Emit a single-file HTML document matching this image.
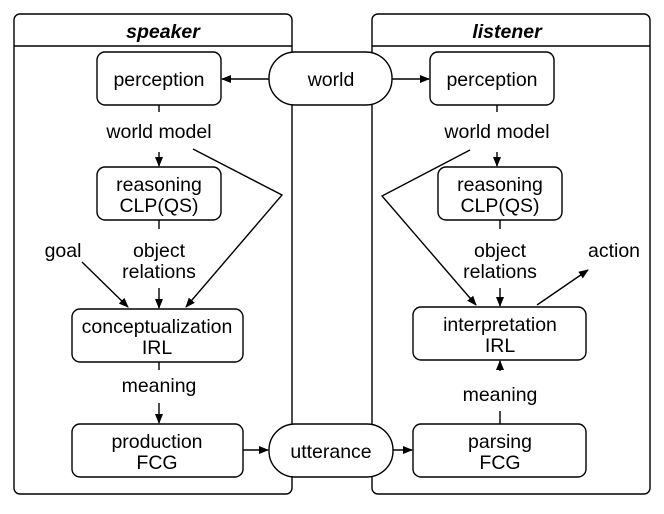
<!DOCTYPE html><html><head><style>body{margin:0;background:#fff}</style></head><body>
<svg width="664" height="509" viewBox="0 0 664 509" xmlns="http://www.w3.org/2000/svg" font-family="Liberation Sans, sans-serif" font-size="19.5" text-anchor="middle">
<defs><marker id="a" markerWidth="10" markerHeight="8" refX="9" refY="4" orient="auto" markerUnits="userSpaceOnUse"><path d="M0,0L10,4L0,8z" fill="#000"/></marker></defs>
<g fill="none" stroke="#000" stroke-width="1.4">
<rect x="14" y="14" width="278" height="480" rx="6"/><line x1="14" y1="46" x2="292" y2="46"/>
<rect x="372" y="14" width="278" height="480" rx="6"/><line x1="372" y1="46" x2="650" y2="46"/>
</g>
<g fill="#fff" stroke="#000" stroke-width="1.4">
<rect x="97" y="52" width="124" height="53" rx="8"/>
<rect x="269" y="52" width="123" height="53" rx="26"/>
<rect x="97" y="167" width="124" height="53" rx="8"/>
<rect x="72" y="309" width="171" height="53" rx="8"/>
<rect x="72" y="424" width="171" height="53" rx="8"/>
<rect x="269" y="424" width="124" height="53" rx="26"/>
<rect x="430" y="52" width="124" height="53" rx="8"/>
<rect x="438" y="167" width="124" height="53" rx="8"/>
<rect x="413" y="307" width="173" height="53" rx="8"/>
<rect x="413" y="424" width="173" height="53" rx="8"/>
</g>
<g fill="none" stroke="#000" stroke-width="1.4" marker-end="url(#a)">
<line x1="269" y1="79" x2="222" y2="79"/>
<line x1="392" y1="79" x2="429" y2="79"/>
<line x1="159" y1="152" x2="159" y2="166"/>
<line x1="159" y1="288" x2="159" y2="308"/>
<polyline points="193,149 282,195 186,307"/>
<line x1="82" y1="262" x2="128" y2="307"/>
<line x1="159" y1="403" x2="159" y2="423"/>
<line x1="243" y1="450" x2="268" y2="450"/>
<line x1="393" y1="450" x2="412" y2="450"/>
<line x1="497" y1="152" x2="497" y2="166"/>
<line x1="500" y1="288" x2="500" y2="306"/>
<polyline points="470,150 382,196 476,305"/>
<line x1="537" y1="305" x2="588" y2="270"/>
<line x1="500" y1="371" x2="500" y2="361"/>
</g>
<g stroke="#000" stroke-width="1.4">
<line x1="159" y1="105" x2="159" y2="112"/><line x1="159" y1="220" x2="159" y2="229"/><line x1="159" y1="362" x2="159" y2="370"/>
<line x1="497" y1="105" x2="497" y2="112"/><line x1="500" y1="220" x2="500" y2="229"/><line x1="500" y1="411" x2="500" y2="424"/>
</g>
<text x="163" y="38" font-weight="bold" font-style="italic">speaker</text>
<text x="507" y="38" font-weight="bold" font-style="italic">listener</text>
<text x="159" y="86">perception</text><text x="331" y="86">world</text>
<text x="159" y="138">world model</text>
<text x="159" y="191">reasoning</text><text x="159" y="212">CLP(QS)</text>
<text x="159" y="257">object</text><text x="159" y="278">relations</text>
<text x="63" y="257">goal</text>
<text x="157" y="333">conceptualization</text><text x="157" y="354">IRL</text>
<text x="159" y="392">meaning</text>
<text x="157" y="448">production</text><text x="157" y="469">FCG</text>
<text x="331" y="458">utterance</text>
<text x="492" y="86">perception</text>
<text x="497" y="138">world model</text>
<text x="500" y="191">reasoning</text><text x="500" y="212">CLP(QS)</text>
<text x="500" y="257">object</text><text x="500" y="278">relations</text>
<text x="614" y="257">action</text>
<text x="500" y="331">interpretation</text><text x="500" y="352">IRL</text>
<text x="500" y="401">meaning</text>
<text x="500" y="448">parsing</text><text x="500" y="469">FCG</text>
</svg></body></html>
